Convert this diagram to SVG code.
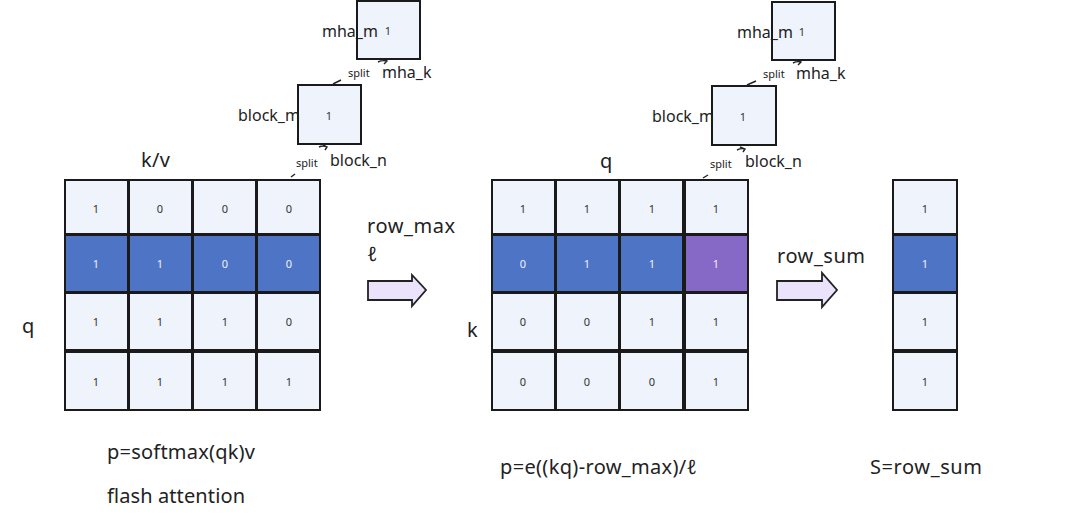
<svg xmlns="http://www.w3.org/2000/svg" width="1080" height="516" viewBox="0 0 1080 516">
<style>
text{font-family:"Noto Sans","Open Sans","Liberation Sans",sans-serif;fill:#222}
.c{fill:#eef3fc;stroke:#1a1a1a;stroke-width:2}
.b{fill:#4e75c5;stroke:#1a1a1a;stroke-width:2}
.p{fill:#8668c6;stroke:#1a1a1a;stroke-width:2}
.n{font-size:11px;text-anchor:middle;fill:#333}
.w{font-size:11px;text-anchor:middle;fill:#eef3fc}
.l{font-size:16px}
.s{font-size:11px}
.big{font-size:20px}
.arr{fill:#ebe3fb;stroke:#222;stroke-width:1.8}
.ln{fill:none;stroke:#222;stroke-width:1.4}
</style>
<g id="mha1"><rect class="c" x="357" y="1" width="63" height="58"/><text class="n" x="388" y="35">1</text><text class="l" x="322" y="37">mha_m</text></g>
<g id="block1"><rect class="c" x="298" y="85" width="63" height="59"/><text class="n" x="329" y="120">1</text><text class="l" x="238" y="121">block_m</text></g>
<g id="mha2"><rect class="c" x="772" y="2" width="63" height="58"/><text class="n" x="802" y="36">1</text><text class="l" x="737" y="38">mha_m</text></g>
<g id="block2"><rect class="c" x="712" y="86" width="64" height="59"/><text class="n" x="743" y="121">1</text><text class="l" x="652" y="122">block_m</text></g>
<g id="labels">
<text class="s" x="348" y="77">split</text><text class="l" x="382" y="78">mha_k</text>
<text class="s" x="296" y="167">split</text><text class="l" x="330" y="166">block_n</text>
<text class="s" x="763" y="78">split</text><text class="l" x="796" y="79">mha_k</text>
<text class="s" x="710" y="168">split</text><text class="l" x="745" y="167">block_n</text>
<text class="big" x="141" y="167" textLength="29">k/v</text>
<text class="big" x="22" y="333">q</text>
<text class="big" x="600" y="168">q</text>
<text class="big" x="467" y="337">k</text>
<text class="big" x="367" y="233" textLength="88">row_max</text>
<text class="big" x="367" y="261">ℓ</text>
<text class="big" x="777" y="263" textLength="88">row_sum</text>
<text class="big" x="107" y="459" textLength="148">p=softmax(qk)v</text>
<text class="big" x="107" y="503" textLength="138">flash attention</text>
<text class="big" x="500" y="474" textLength="197">p=e((kq)-row_max)/ℓ</text>
<text class="big" x="870" y="474" textLength="112">S=row_sum</text>
</g>
<g id="connectors">
<path class="ln" d="M333 84 L341 80"/>
<path class="ln" d="M378 62 Q382 60 387 61 M382 59 L387 61 L384 64"/>
<path class="ln" d="M291 177 L295 174"/>
<path class="ln" d="M319 147 Q323 145 327 147 M323 145 L327 147 L325 150"/>
<path class="ln" d="M747 85 L756 81"/>
<path class="ln" d="M793 63 Q797 61 801 62 M796 60 L801 62 L798 65"/>
<path class="ln" d="M703 178 L708 175"/>
<path class="ln" d="M737 150 Q741 148 745 149 M740 147 L745 149 L743 152"/>
<path class="arr" d="M368 281 H412 V275 L426 290 L412 306 V300 H368 Z"/>
<path class="arr" d="M777 281 H822 V273 L837 290 L822 307 V300 H777 Z"/>
</g>
<g id="grid1">
<rect class="c" x="65" y="180" width="63" height="54"/><rect class="c" x="129" y="180" width="63" height="54"/><rect class="c" x="193" y="180" width="63" height="54"/><rect class="c" x="257" y="180" width="63" height="54"/>
<rect class="b" x="65" y="235" width="63" height="57"/><rect class="b" x="129" y="235" width="63" height="57"/><rect class="b" x="193" y="235" width="63" height="57"/><rect class="b" x="257" y="235" width="63" height="57"/>
<rect class="c" x="65" y="293" width="63" height="57"/><rect class="c" x="129" y="293" width="63" height="57"/><rect class="c" x="193" y="293" width="63" height="57"/><rect class="c" x="257" y="293" width="63" height="57"/>
<rect class="c" x="65" y="352" width="63" height="58"/><rect class="c" x="129" y="352" width="63" height="58"/><rect class="c" x="193" y="352" width="63" height="58"/><rect class="c" x="257" y="352" width="63" height="58"/>
<text class="n" x="96" y="213">1</text><text class="n" x="160" y="213">0</text><text class="n" x="225" y="213">0</text><text class="n" x="289" y="213">0</text>
<text class="w" x="96" y="268">1</text><text class="w" x="160" y="268">1</text><text class="w" x="225" y="268">0</text><text class="w" x="289" y="268">0</text>
<text class="n" x="96" y="326">1</text><text class="n" x="160" y="326">1</text><text class="n" x="225" y="326">1</text><text class="n" x="289" y="326">0</text>
<text class="n" x="96" y="386">1</text><text class="n" x="160" y="386">1</text><text class="n" x="225" y="386">1</text><text class="n" x="289" y="386">1</text>
</g>
<g id="grid2">
<rect class="c" x="492" y="180" width="63" height="54"/><rect class="c" x="556" y="180" width="63" height="54"/><rect class="c" x="620" y="180" width="63" height="54"/><rect class="c" x="685" y="180" width="63" height="54"/>
<rect class="b" x="492" y="235" width="63" height="57"/><rect class="b" x="556" y="235" width="63" height="57"/><rect class="b" x="620" y="235" width="63" height="57"/><rect class="p" x="685" y="235" width="63" height="57"/>
<rect class="c" x="492" y="293" width="63" height="57"/><rect class="c" x="556" y="293" width="63" height="57"/><rect class="c" x="620" y="293" width="63" height="57"/><rect class="c" x="685" y="293" width="63" height="57"/>
<rect class="c" x="492" y="352" width="63" height="58"/><rect class="c" x="556" y="352" width="63" height="58"/><rect class="c" x="620" y="352" width="63" height="58"/><rect class="c" x="685" y="352" width="63" height="58"/>
<text class="n" x="523" y="213">1</text><text class="n" x="587" y="213">1</text><text class="n" x="652" y="213">1</text><text class="n" x="716" y="213">1</text>
<text class="w" x="523" y="268">0</text><text class="w" x="587" y="268">1</text><text class="w" x="652" y="268">1</text><text class="w" x="716" y="268">1</text>
<text class="n" x="523" y="326">0</text><text class="n" x="587" y="326">0</text><text class="n" x="652" y="326">1</text><text class="n" x="716" y="326">1</text>
<text class="n" x="523" y="386">0</text><text class="n" x="587" y="386">0</text><text class="n" x="652" y="386">0</text><text class="n" x="716" y="386">1</text>
</g>
<g id="col3">
<rect class="c" x="893" y="180" width="64" height="54"/>
<rect class="b" x="893" y="235" width="64" height="57"/>
<rect class="c" x="893" y="293" width="64" height="57"/>
<rect class="c" x="893" y="352" width="64" height="58"/>
<text class="n" x="925" y="213">1</text><text class="w" x="925" y="268">1</text><text class="n" x="925" y="326">1</text><text class="n" x="925" y="386">1</text>
</g>
</svg>
